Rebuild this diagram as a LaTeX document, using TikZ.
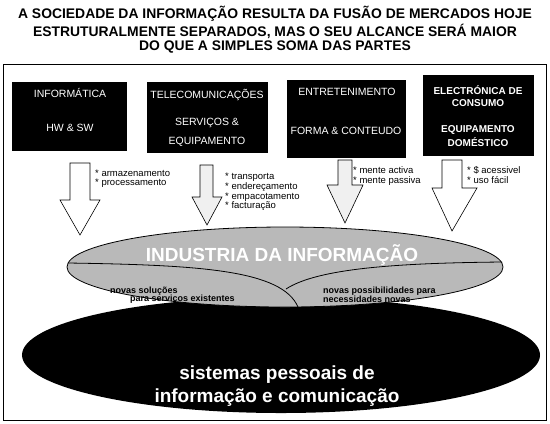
\documentclass[tikz,border=0pt]{standalone}
\usepackage{fontspec}
\setmainfont{Liberation Sans}
\usetikzlibrary{shapes.geometric}

\begin{document}
\begin{tikzpicture}[x=1bp,y=-1bp,
  titulo/.style={font=\fontsize{13.9bp}{15bp}\selectfont\bfseries, inner sep=0pt},
  caixa/.style={fill=black, draw=black, inner sep=0pt},
  txtcaixa/.style={text=white, font=\fontsize{10.5bp}{12bp}\selectfont, inner sep=0pt},
  nota/.style={font=\fontsize{9.5bp}{9bp}\selectfont, align=left, inner sep=0pt, anchor=north west},
  seta/.style={fill=white, draw=black, line width=0.6bp},
  miolo/.style={font=\fontsize{9bp}{8bp}\selectfont\bfseries, align=left, inner sep=0pt, anchor=west}]
\useasboundingbox (0,0) rectangle (550,423);

% titulo
\node[titulo] (tit1) at (275,14) {A SOCIEDADE DA INFORMAÇÃO RESULTA DA FUSÃO DE MERCADOS HOJE};
\node[titulo] (tit2) at (275,31) {ESTRUTURALMENTE SEPARADOS, MAS O SEU ALCANCE SERÁ MAIOR};
\node[titulo] (tit3) at (275,47) {DO QUE A SIMPLES SOMA DAS PARTES};

\draw[line width=1bp] (3,64) rectangle (546,420);

% as quatro caixas
\node[caixa, minimum width=114bp, minimum height=68bp] (inf) at (69,116) {};
\node[caixa, minimum width=120bp, minimum height=70bp] (tel) at (207,117) {};
\node[caixa, minimum width=118bp, minimum height=77bp] (ent) at (346,118.5) {};
\node[caixa, minimum width=110bp, minimum height=80bp] (ele) at (478,115) {};

\node[txtcaixa] (inf1) at (70,93) {INFORMÁTICA};
\node[txtcaixa] (inf2) at (70,128) {HW \& SW};
\node[txtcaixa] (tel1) at (207,95) {TELECOMUNICAÇÕES};
\node[txtcaixa] (tel2) at (207,123) {SERVIÇOS \&};
\node[txtcaixa] (tel3) at (207,142) {EQUIPAMENTO};
\node[txtcaixa] (ent1) at (347,92) {ENTRETENIMENTO};
\node[txtcaixa] (ent2) at (346,131) {FORMA \& CONTEUDO};
\node[txtcaixa, font=\fontsize{10bp}{12bp}\selectfont\bfseries] (ele1) at (478,90) {ELECTRÓNICA DE};
\node[txtcaixa, font=\fontsize{10bp}{12bp}\selectfont\bfseries] (ele2) at (478,103) {CONSUMO};
\node[txtcaixa, font=\fontsize{10bp}{12bp}\selectfont\bfseries] (ele3) at (478,130) {EQUIPAMENTO};
\node[txtcaixa, font=\fontsize{10bp}{12bp}\selectfont\bfseries] (ele4) at (478,142) {DOMÉSTICO};

% setas
\filldraw[seta] (70,163) -- (90,163) -- (90,200) -- (100,200) -- (80,235) -- (60,200) -- (70,200) -- cycle;
\filldraw[seta, fill=gray!12] (200,165) -- (213,165) -- (213,197) -- (222,197) -- (207,225) -- (192,197) -- (200,197) -- cycle;
\filldraw[seta, fill=gray!12] (338,160) -- (352,160) -- (352,185) -- (363,185) -- (345,223) -- (327,185) -- (338,185) -- cycle;
\filldraw[seta] (442,160) -- (462,160) -- (462,188) -- (477,188) -- (452,231) -- (432,188) -- (442,188) -- cycle;

\node[nota] (n1) at (95,170) {* armazenamento\\* processamento};
\node[nota, font=\fontsize{9.5bp}{8bp}\selectfont] (n2) at (225,173) {* transporta\\* endereçamento\\* empacotamento\\* facturação};
\node[nota, font=\fontsize{9.5bp}{10bp}\selectfont] (n3) at (353,166) {* mente activa\\* mente passiva};
\node[nota, font=\fontsize{9.5bp}{10bp}\selectfont] (n4) at (467,166) {* \$ acessivel\\* uso fácil};

% elipses
\node[ellipse, fill=black, minimum width=518bp, minimum height=116bp, inner sep=0pt] (sistemas) at (281,355) {};
\node[ellipse, fill=gray!55, draw=black, line width=0.8bp, minimum width=436bp, minimum height=80bp, inner sep=0pt] (industria) at (285,267) {};

\draw[line width=0.8bp] (68,263) .. controls (200,265) and (282,270) .. (298,307);
\draw[line width=0.8bp] (502,262) .. controls (400,263) and (318,268) .. (286,289);

\node[text=white, font=\fontsize{19bp}{20bp}\selectfont\bfseries, inner sep=0pt] (ind) at (282,255) {INDUSTRIA DA INFORMAÇÃO};
\node[miolo] (m1) at (110,291) {novas soluções};
\node[miolo] (m2) at (130,299) {para serviços existentes};
\node[miolo] (m3) at (323,291) {novas possibilidades para};
\node[miolo] (m4) at (323,299) {necessidades novas};

\node[text=white, font=\fontsize{19bp}{20bp}\selectfont\bfseries, inner sep=0pt] (sis1) at (277,375) {sistemas pessoais de};
\node[text=white, font=\fontsize{19bp}{20bp}\selectfont\bfseries, inner sep=0pt] (sis2) at (277,398) {informação e comunicação};
\end{tikzpicture}
\end{document}
